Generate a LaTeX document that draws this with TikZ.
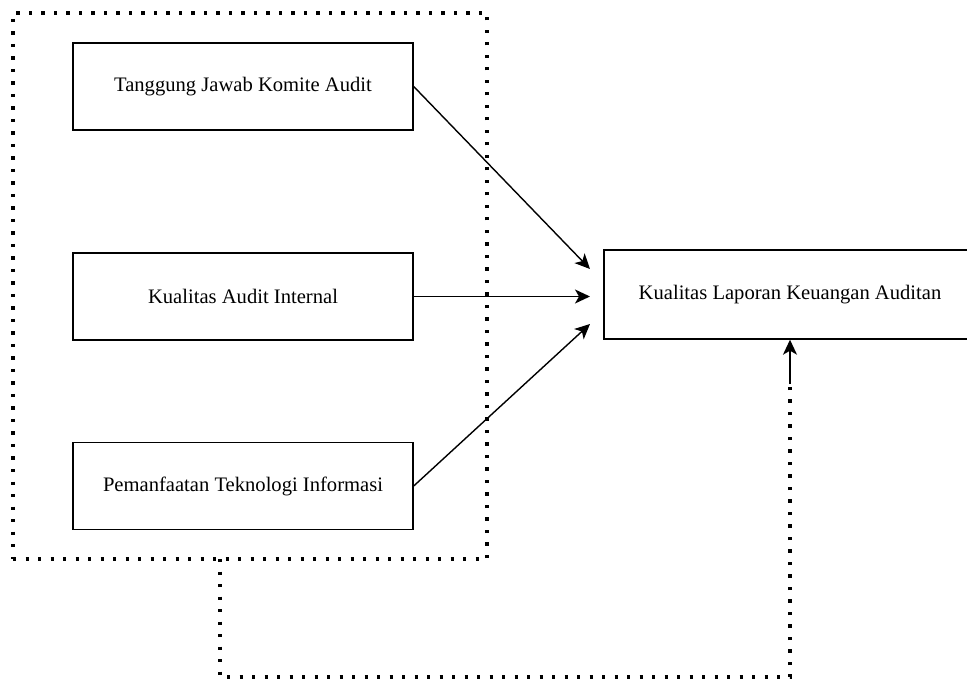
\documentclass[tikz,border=0pt]{standalone}
\usepackage{fontspec}
\setmainfont{Liberation Serif}
\usetikzlibrary{arrows.meta}

\begin{document}
\begin{tikzpicture}[x=1pt,y=-1pt,
    box/.style={draw, line width=1.4pt, minimum width=340pt, minimum height=87pt, inner sep=0pt, font=\fontsize{20.6}{24}\selectfont},
    link/.style={line width=1.4pt, -{Stealth[length=15pt,width=14pt,inset=4pt]}},
    dots/.style={draw, line width=3.2pt, dash pattern=on 3.2pt off 9.3pt}]
    \clip (0,0) rectangle (967,679);
    \node[box] (tja) at (243,86.5) {Tanggung Jawab Komite Audit};
    \node[box] (kai) at (243,296.5) {Kualitas Audit Internal};
    \node[box] (pti) at (243,486) {Pemanfaatan Teknologi Informasi};
    \node[box, minimum width=372pt, minimum height=89pt] (klk) at (790,294.5) {Kualitas Laporan Keuangan Auditan};
    \node[dots, minimum width=474pt, minimum height=546pt, inner sep=0pt] (grp) at (250,286) {};
    % arrow ends in front of the result box
    \coordinate (t1) at (590,269);
    \coordinate (t2) at (590,296.5);
    \coordinate (t3) at (590,324);
    \draw[link] (tja.east) -- (t1);
    \draw[link] (kai.east) -- (t2);
    \draw[link] (pti.east) -- (t3);
    % dotted link from the group
    \coordinate (g1) at (220,559);
    \coordinate (g2) at (220,677);
    \coordinate (g3) at (790,384);
    \draw[dots] (g1) -- (g2) -| (g3);
    \draw[link] (g3) -- (klk.south);
\end{tikzpicture}
\end{document}
